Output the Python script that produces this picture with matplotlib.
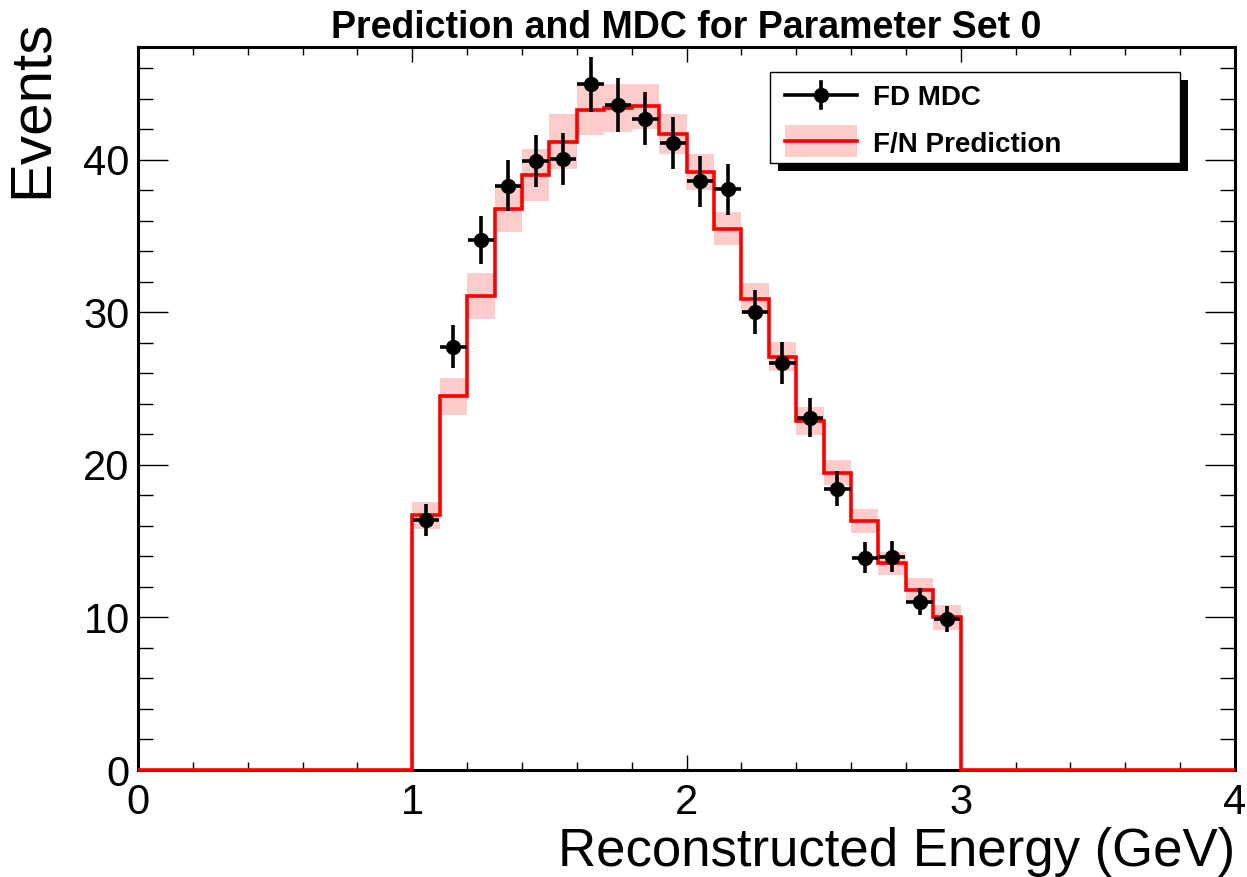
import matplotlib
matplotlib.use("Agg")
import matplotlib.pyplot as plt
import matplotlib.patches as mpatches
from matplotlib.ticker import MultipleLocator
import numpy as np

plt.rcParams["font.family"] = ["Liberation Sans", "DejaVu Sans"]

# Data: 0.1 GeV bins, only 1-3 GeV filled
bin_lo = 1.0
bin_w = 0.1
pred = [16.7, 24.5, 31.1, 36.8, 39.0, 41.2, 43.3, 43.4, 43.5, 41.7,
        39.2, 35.5, 30.9, 27.1, 22.9, 19.5, 16.3, 13.55, 11.8, 10.0]
pred_err = [0.9, 1.2, 1.5, 1.5, 1.7, 1.8, 1.7, 1.6, 1.5, 1.3,
            1.2, 1.1, 1.0, 0.95, 0.93, 0.8, 0.78, 0.76, 0.76, 0.79]
mdc = [16.4, 27.75, 34.75, 38.3, 39.95, 40.07, 44.96, 43.6, 42.7, 41.1,
       38.6, 38.07, 30.05, 26.66, 23.1, 18.43, 13.92, 13.99, 11.04, 9.93]
mdc_err = [1.07, 1.4, 1.6, 1.66, 1.7, 1.7, 1.8, 1.77, 1.75, 1.73,
           1.66, 1.67, 1.45, 1.38, 1.28, 1.14, 1.0, 1.0, 0.87, 0.85]
labels = ["FD MDC", "F/N Prediction"]

RED = "#ff0000"
PINK = "#ffcccc"

n = len(pred)
centers = bin_lo + bin_w * (np.arange(n) + 0.5)
pred = np.array(pred)
pred_err = np.array(pred_err)

# full histogram 0-4 GeV with empty bins outside 1-3
edges = np.round(np.arange(0, 4.0001, bin_w), 3)
full = np.zeros(len(edges) - 1)
i0 = int(round(bin_lo / bin_w))
full[i0:i0 + n] = pred

W, H = 1247, 877
fig = plt.figure(figsize=(W / 100, H / 100), dpi=100)
ax = fig.add_axes([138 / W, 1 - 770 / H, 1097 / W, 723 / H])

ax.bar(centers, 2 * pred_err, bottom=pred - pred_err, width=bin_w,
       color=PINK, linewidth=0, zorder=1)
ax.stairs(full, edges, baseline=None, color=RED, lw=2.6, zorder=3,
          clip_on=False)
ax.errorbar(centers, mdc, yerr=mdc_err, xerr=0.048, fmt="o", color="black",
            ms=10, elinewidth=2.6, capsize=0, zorder=4)

ax.set_xlim(0, 4)
ax.set_ylim(0, 47.4)

ax.xaxis.set_major_locator(MultipleLocator(1))
ax.xaxis.set_minor_locator(MultipleLocator(0.2))
ax.yaxis.set_major_locator(MultipleLocator(10))
ax.yaxis.set_minor_locator(MultipleLocator(2))
ax.tick_params(which="both", direction="in", top=True, right=True,
               width=1.0, color="black")
ax.tick_params(axis="y", which="major", length=21.5)
ax.tick_params(axis="y", which="minor", length=10.8)
ax.tick_params(axis="x", which="major", length=11)
ax.tick_params(axis="x", which="minor", length=5.5)
ax.tick_params(axis="x", labelsize=30, pad=9)
ax.tick_params(axis="y", labelsize=30, pad=6)
for s in ax.spines.values():
    s.set_linewidth(2.2)
    s.set_zorder(2.5)

fig.text(32 / W, 1 - 20 / H, "Events", rotation=90, ha="center",
         va="top", fontsize=42)
fig.text(1235 / W, 1 - 866 / H, "Reconstructed Energy (GeV)",
         ha="right", va="baseline", fontsize=38)
fig.text(686 / W, 1 - 38 / H, "Prediction and MDC for Parameter Set 0",
         ha="center", va="baseline", fontsize=27, fontweight="bold")

# legend drawn by hand in figure pixels, ROOT style with solid shadow
def fx(px):
    return px / W


def fy(py):
    return 1 - py / H


lx0, lx1, ly0, ly1 = 770, 1180, 72, 163
fig.patches.append(mpatches.Rectangle((fx(lx0 + 8), fy(ly1 + 8)),
                                      fx(lx1 - lx0), (ly1 - ly0) / H,
                                      transform=fig.transFigure,
                                      facecolor="black", edgecolor="none",
                                      zorder=8))
fig.patches.append(mpatches.Rectangle((fx(lx0), fy(ly1)),
                                      fx(lx1 - lx0), (ly1 - ly0) / H,
                                      transform=fig.transFigure,
                                      facecolor="white", edgecolor="black",
                                      lw=1.0, zorder=9))
# FD MDC entry
fig.add_artist(plt.Line2D([fx(785), fx(857)], [fy(95), fy(95)],
                          color="black", lw=2.6, zorder=10))
fig.add_artist(plt.Line2D([fx(821), fx(821)], [fy(82), fy(108)],
                          color="black", lw=2.6, zorder=10))
fig.add_artist(plt.Line2D([fx(821)], [fy(95)], marker="o", ms=10,
                          color="black", zorder=10))
# F/N Prediction entry
fig.patches.append(mpatches.Rectangle((fx(785), fy(157)), fx(72), 32 / H,
                                      transform=fig.transFigure,
                                      facecolor=PINK, edgecolor="none",
                                      zorder=10))
fig.add_artist(plt.Line2D([fx(785), fx(857)], [fy(141), fy(141)],
                          color=RED, lw=2.6, zorder=11))
fig.text(fx(873), fy(95), labels[0], ha="left", va="center_baseline",
         fontsize=20, fontweight="bold", zorder=11)
fig.text(fx(873), fy(142), labels[1], ha="left", va="center_baseline",
         fontsize=20, fontweight="bold", zorder=11)

fig.savefig("out.png", dpi=100, facecolor="white")
